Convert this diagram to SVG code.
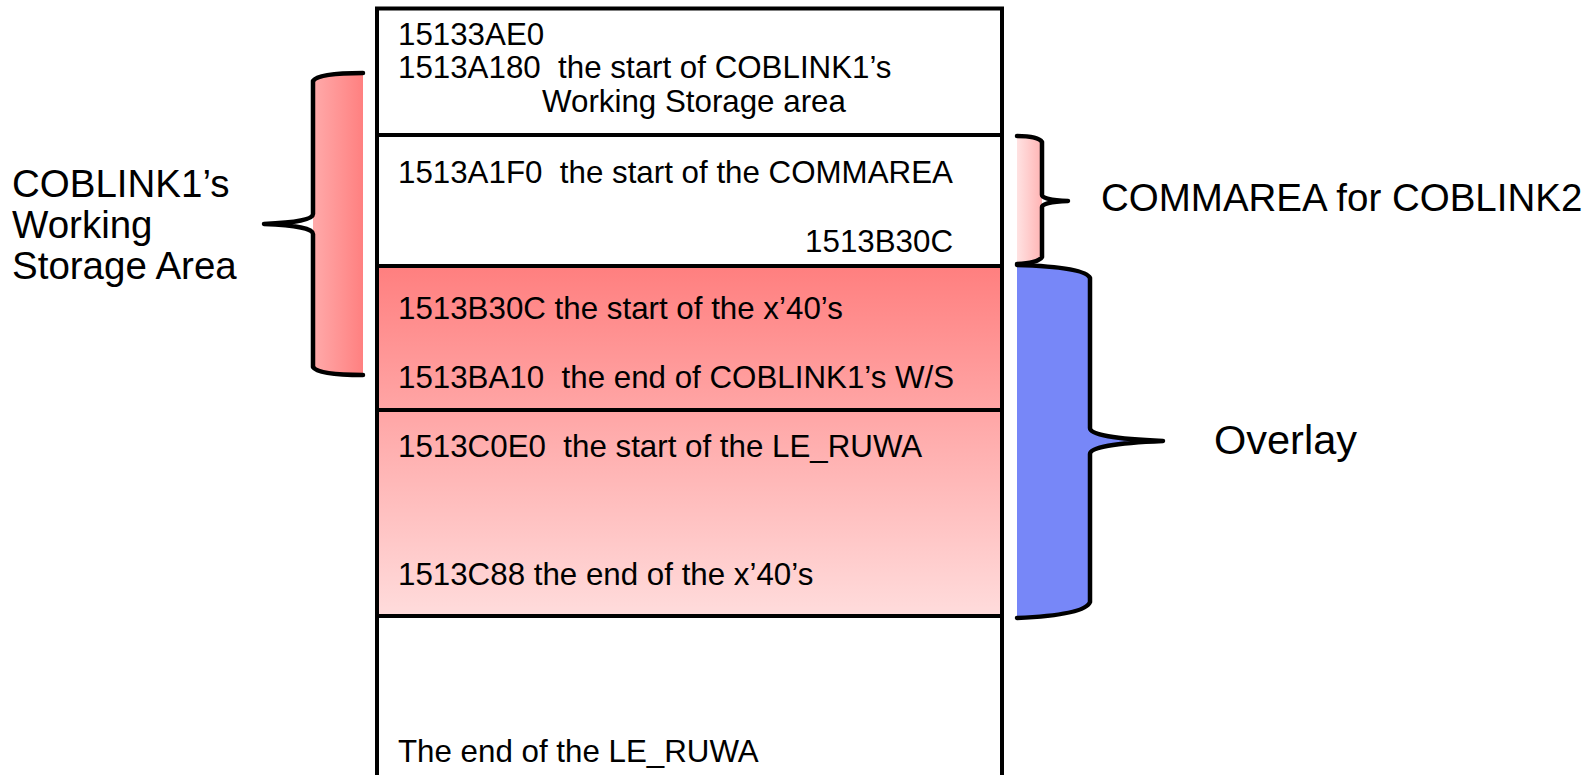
<svg xmlns="http://www.w3.org/2000/svg" width="1587" height="775" viewBox="0 0 1587 775">
  <style>
    text { font-family: "Liberation Sans", Arial, sans-serif; fill: #000; }
    .mem { font-size: 31.3px; }
    .lbl { font-size: 38.5px; }
    .big { font-size: 41.5px; }
    .edge { fill: none; stroke: #000; stroke-width: 4; }
    .brace { fill: none; stroke: #000; stroke-width: 4.5; stroke-linejoin: round; stroke-linecap: round; }
  </style>
  <defs>
    <linearGradient id="gradStack" x1="0" y1="266" x2="0" y2="616" gradientUnits="userSpaceOnUse">
      <stop offset="0" stop-color="#ff7f7f"/>
      <stop offset="1" stop-color="#ffdcdc"/>
    </linearGradient>
    <linearGradient id="gradWs" x1="313" y1="0" x2="363" y2="0" gradientUnits="userSpaceOnUse">
      <stop offset="0" stop-color="#ffaaaa"/>
      <stop offset="1" stop-color="#ff8080"/>
    </linearGradient>
    <linearGradient id="gradComm" x1="1017" y1="0" x2="1042" y2="0" gradientUnits="userSpaceOnUse">
      <stop offset="0" stop-color="#ffe2e2"/>
      <stop offset="1" stop-color="#ffb4b4"/>
    </linearGradient>
  </defs>

  <!-- storage column -->
  <g id="block-top">
    <rect x="377" y="8.5" width="625" height="126.5" fill="#fff"/>
    <text class="mem" x="398" y="45">15133AE0</text>
    <text class="mem" x="398" y="78" xml:space="preserve">1513A180  the start of COBLINK1’s</text>
    <text class="mem" x="542" y="112">Working Storage area</text>
  </g>
  <g id="block-commarea">
    <rect x="377" y="135" width="625" height="131" fill="#fff"/>
    <text class="mem" x="398" y="183" xml:space="preserve">1513A1F0  the start of the COMMAREA</text>
    <text class="mem" x="953" y="252" text-anchor="end">1513B30C</text>
  </g>
  <g id="block-x40">
    <rect x="377" y="266" width="625" height="144" fill="url(#gradStack)"/>
    <text class="mem" x="398" y="319">1513B30C the start of the x’40’s</text>
    <text class="mem" x="398" y="388" xml:space="preserve">1513BA10  the end of COBLINK1’s W/S</text>
  </g>
  <g id="block-ruwa">
    <rect x="377" y="410" width="625" height="206" fill="url(#gradStack)"/>
    <text class="mem" x="398" y="457" xml:space="preserve">1513C0E0  the start of the LE_RUWA</text>
    <text class="mem" x="398" y="585">1513C88 the end of the x’40’s</text>
  </g>
  <g id="block-end">
    <rect x="377" y="616" width="625" height="170" fill="#fff"/>
    <text class="mem" x="398" y="762">The end of the LE_RUWA</text>
  </g>

  <!-- column outline and dividers -->
  <g id="column-lines">
    <path class="edge" d="M377,790 L377,8.5 L1002,8.5 L1002,790"/>
    <path class="edge" d="M377,135 H1002 M377,266 H1002 M377,410 H1002 M377,616 H1002"/>
  </g>

  <!-- braces -->
  <g id="connectors">
    <g id="brace-ws">
      <path d="M363,73 Q318,73 313,81 L313,367 Q318,375 363,375 Z" fill="url(#gradWs)"/>
      <path class="brace" d="M363,73 Q318,73 313,81 L313,214 Q313,222 264,224 Q313,226 313,234 L313,367 Q318,375 363,375"/>
    </g>
    <g id="brace-commarea">
      <path d="M1017,136 Q1038,136 1042,142 L1042,257 Q1038,263 1017,264 Z" fill="url(#gradComm)"/>
      <path class="brace" d="M1017,136 Q1038,136 1042,142 L1042,195 Q1042,200 1068,201 Q1042,202 1042,207 L1042,257 Q1038,263 1017,264"/>
    </g>
    <g id="brace-overlay">
      <path d="M1017,265 Q1085,267 1090,278 L1090,428 Q1090,438 1163,441 Q1090,444 1090,454 L1090,602 Q1085,615 1017,618 Z" fill="#7787f8"/>
      <path class="brace" d="M1017,265 Q1085,267 1090,278 L1090,428 Q1090,438 1163,441 Q1090,444 1090,454 L1090,602 Q1085,615 1017,618"/>
    </g>
  </g>

  <!-- side labels -->
  <g id="label-ws">
    <text class="lbl" x="12" y="197">COBLINK1’s</text>
    <text class="lbl" x="12" y="238">Working</text>
    <text class="lbl" x="12" y="279">Storage Area</text>
  </g>
  <g id="label-commarea">
    <text class="lbl" x="1101" y="211">COMMAREA for COBLINK2</text>
  </g>
  <g id="label-overlay">
    <text class="big" x="1214" y="454">Overlay</text>
  </g>
</svg>
